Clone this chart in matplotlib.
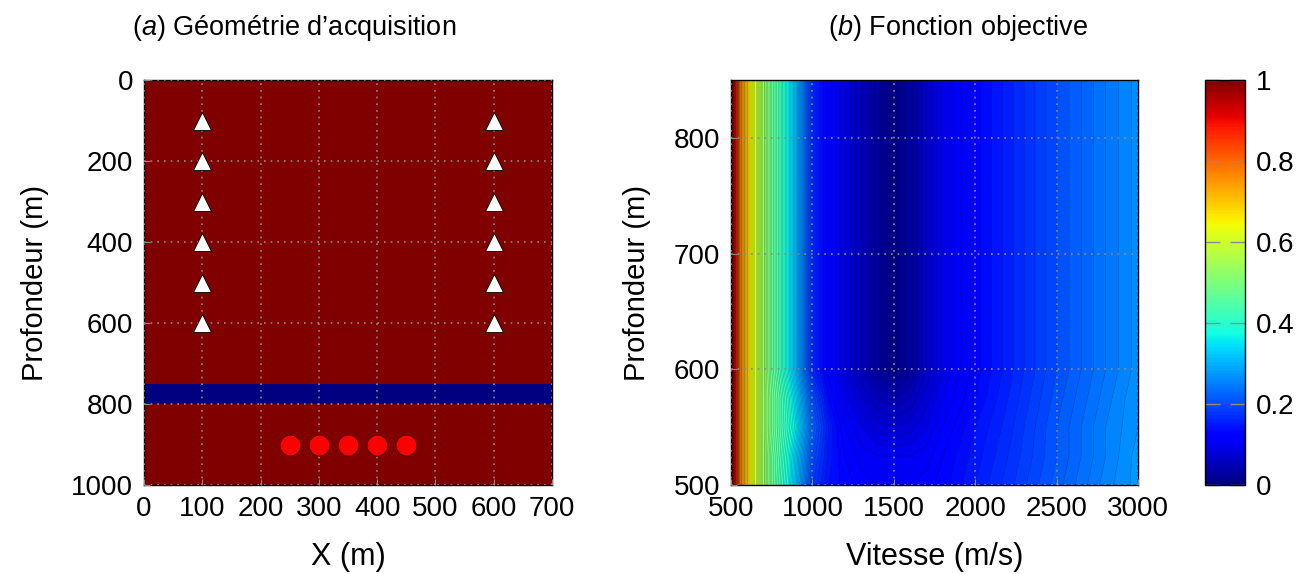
import numpy as np
import matplotlib.pyplot as plt
from matplotlib import cm, colors

plt.rcParams['font.family'] = ['Liberation Sans', 'DejaVu Sans']
plt.rcParams['mathtext.fontset'] = 'custom'
plt.rcParams['mathtext.it'] = 'Liberation Sans:italic'
plt.rcParams['mathtext.rm'] = 'Liberation Sans'

# (a) acquisition geometry
model_x = [0, 700]
layer_bounds = [0, 750, 800, 1000]
layer_values = [1.0, 0.0, 1.0]
receiver_x = [100, 100, 100, 100, 100, 100, 600, 600, 600, 600, 600, 600]
receiver_z = [100, 200, 300, 400, 500, 600, 100, 200, 300, 400, 500, 600]
source_x = [250, 300, 350, 400, 450]
source_z = [900, 900, 900, 900, 900]

# (b) objective function, normalised misfit
velocities = [500, 550, 600, 650, 700, 750, 800, 850, 900, 1000, 1100, 1200,
              1300, 1400, 1500, 1600, 1700, 1800, 2000, 2200, 2500, 2800, 3000]
depths = [500, 525, 550, 575, 600, 850]
misfit_500 = [1.00, 0.79, 0.68, 0.60, 0.53, 0.47, 0.42, 0.37, 0.31, 0.18, 0.14, 0.125,
              0.115, 0.11, 0.11, 0.11, 0.115, 0.125, 0.15, 0.175, 0.215, 0.255, 0.275]
misfit_525 = [1.00, 0.79, 0.68, 0.60, 0.53, 0.47, 0.43, 0.38, 0.32, 0.20, 0.145, 0.12,
              0.105, 0.10, 0.10, 0.10, 0.105, 0.12, 0.145, 0.17, 0.21, 0.25, 0.275]
misfit_550 = [1.00, 0.79, 0.68, 0.60, 0.53, 0.48, 0.44, 0.40, 0.35, 0.22, 0.15, 0.11,
              0.09, 0.075, 0.07, 0.075, 0.09, 0.11, 0.14, 0.165, 0.21, 0.25, 0.27]
misfit_575 = [1.00, 0.79, 0.68, 0.60, 0.53, 0.48, 0.44, 0.39, 0.33, 0.20, 0.13, 0.095,
              0.07, 0.05, 0.04, 0.05, 0.075, 0.10, 0.13, 0.16, 0.205, 0.245, 0.27]
misfit_600 = [1.00, 0.79, 0.68, 0.60, 0.53, 0.47, 0.42, 0.36, 0.30, 0.16, 0.115, 0.08,
              0.05, 0.025, 0.005, 0.025, 0.06, 0.09, 0.125, 0.155, 0.20, 0.24, 0.265]
misfit_850 = misfit_600

cmap = plt.get_cmap('jet')
norm = colors.Normalize(0, 1)
grid_kw = dict(color='#8c8c8c', linestyle=(0, (1, 3)), linewidth=1.2)

fig = plt.figure(figsize=(13.09, 5.74), dpi=100)
ax1 = fig.add_axes([0.110, 0.155, 0.3117, 0.7056])
ax2 = fig.add_axes([0.5585, 0.155, 0.311, 0.7056])
cax = fig.add_axes([0.9206, 0.155, 0.0306, 0.7056])

# left panel
ax1.pcolormesh(model_x, layer_bounds, np.array(layer_values)[:, None],
               cmap=cmap, norm=norm)
ax1.plot(receiver_x, receiver_z, '^', ms=13, mfc='white', mec='black', mew=0.6,
         zorder=4)
ax1.plot(source_x, source_z, 'o', ms=15, mfc='red', mec='#400000', mew=0.6,
         zorder=4)
ax1.set_xlim(0, 700)
ax1.set_ylim(1000, 0)
ax1.set_xticks(range(0, 701, 100))
ax1.set_yticks(range(0, 1001, 200))
ax1.set_xlabel('X (m)', fontsize=22, labelpad=14)
ax1.set_ylabel('Profondeur (m)', fontsize=21, labelpad=16)

# right panel
Z = np.array([misfit_500, misfit_525, misfit_550, misfit_575, misfit_600, misfit_850])
ax2.contourf(velocities, depths, Z, levels=np.linspace(0, 1, 101), cmap=cmap, norm=norm)
ax2.contour(velocities, depths, Z, levels=np.linspace(0, 1, 101), colors='black',
            linewidths=0.4, alpha=0.3)
ax2.set_xlim(500, 3000)
ax2.set_ylim(500, 850)
ax2.set_xticks(range(500, 3001, 500))
ax2.set_yticks(range(500, 801, 100))
ax2.set_xlabel('Vitesse (m/s)', fontsize=22, labelpad=14)
ax2.set_ylabel('Profondeur (m)', fontsize=21, labelpad=16)

for ax in (ax1, ax2):
    ax.set_axisbelow(False)
    ax.grid(True, **grid_kw)
    ax.tick_params(direction='in', length=4, color='#8c8c8c', labelsize=20, pad=8)
    for s in ax.spines.values():
        s.set_linewidth(1.0)

# colorbar
cb = fig.colorbar(cm.ScalarMappable(norm=norm, cmap=cmap), cax=cax)
cb.set_ticks([0, 0.2, 0.4, 0.6, 0.8, 1])
cb.set_ticklabels(['0', '0.2', '0.4', '0.6', '0.8', '1'])
cax.tick_params(direction='in', left=True, right=True, length=11, width=1,
                color='#8c8c8c', labelsize=20, pad=8)
cb.outline.set_linewidth(1.0)

fig.text(0.225, 0.951, r"$\it{(a)}$ Géométrie d’acquisition", fontsize=19.5,
         ha='center', va='center')
fig.text(0.732, 0.951, r"$\it{(b)}$ Fonction objective", fontsize=19.5,
         ha='center', va='center')

fig.savefig('out.png', dpi=100)
